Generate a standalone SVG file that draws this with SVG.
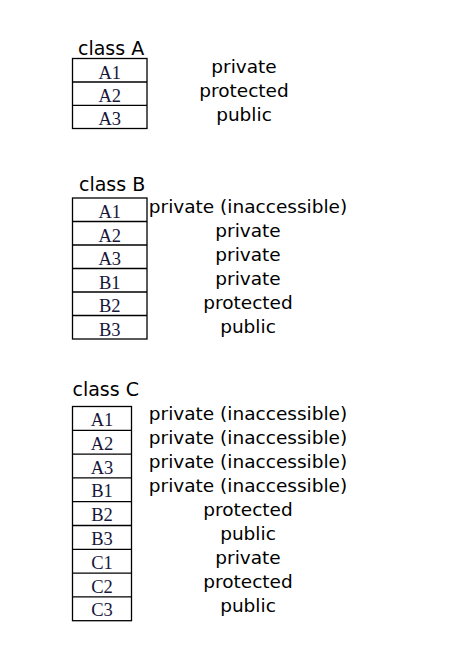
<svg xmlns="http://www.w3.org/2000/svg" width="476" height="667" viewBox="0 0 476 667">
<style>
.bg{fill:#ffffff}
.box{fill:#ffffff;stroke:#000;stroke-width:1.3}
.sep{stroke:#000;stroke-width:1.3}
.lbl{font-family:"DejaVu Sans","Liberation Sans",sans-serif;font-size:19px;fill:#000}
.acc{font-family:"DejaVu Sans","Liberation Sans",sans-serif;font-size:18.5px;fill:#000;text-anchor:middle}
.cell{font-family:"Liberation Serif","Times New Roman",serif;font-size:18.5px;fill:#16163a;text-anchor:middle}
</style>
<rect class="bg" x="0" y="0" width="476" height="667"/>

<g id="classA">
  <text class="lbl" x="78" y="54.5">class A</text>
  <rect class="box" x="72.5" y="58.5" width="74.5" height="70"/>
  <line class="sep" x1="72.5" y1="82" x2="147" y2="82"/>
  <line class="sep" x1="72.5" y1="105.3" x2="147" y2="105.3"/>
  <text class="cell" x="109.75" y="78.5">A1</text>
  <text class="cell" x="109.75" y="102">A2</text>
  <text class="cell" x="109.75" y="125.3">A3</text>
  <text class="acc" x="244" y="73">private</text>
  <text class="acc" x="244" y="97">protected</text>
  <text class="acc" x="244" y="121">public</text>
</g>

<g id="classB">
  <text class="lbl" x="79" y="191">class B</text>
  <rect class="box" x="72.5" y="198" width="74.5" height="141"/>
  <line class="sep" x1="72.5" y1="221.5" x2="147" y2="221.5"/>
  <line class="sep" x1="72.5" y1="245" x2="147" y2="245"/>
  <line class="sep" x1="72.5" y1="268.5" x2="147" y2="268.5"/>
  <line class="sep" x1="72.5" y1="292" x2="147" y2="292"/>
  <line class="sep" x1="72.5" y1="315.5" x2="147" y2="315.5"/>
  <text class="cell" x="109.75" y="218">A1</text>
  <text class="cell" x="109.75" y="241.5">A2</text>
  <text class="cell" x="109.75" y="265">A3</text>
  <text class="cell" x="109.75" y="288.5">B1</text>
  <text class="cell" x="109.75" y="312">B2</text>
  <text class="cell" x="109.75" y="335.5">B3</text>
  <text class="acc" x="248" y="213">private (inaccessible)</text>
  <text class="acc" x="248" y="237">private</text>
  <text class="acc" x="248" y="261">private</text>
  <text class="acc" x="248" y="285">private</text>
  <text class="acc" x="248" y="309">protected</text>
  <text class="acc" x="248" y="333">public</text>
</g>

<g id="classC">
  <text class="lbl" x="72.5" y="395.5">class C</text>
  <rect class="box" x="72.5" y="406.5" width="59" height="214.2"/>
  <line class="sep" x1="72.5" y1="430.3" x2="131.5" y2="430.3"/>
  <line class="sep" x1="72.5" y1="454.1" x2="131.5" y2="454.1"/>
  <line class="sep" x1="72.5" y1="477.9" x2="131.5" y2="477.9"/>
  <line class="sep" x1="72.5" y1="501.7" x2="131.5" y2="501.7"/>
  <line class="sep" x1="72.5" y1="525.5" x2="131.5" y2="525.5"/>
  <line class="sep" x1="72.5" y1="549.3" x2="131.5" y2="549.3"/>
  <line class="sep" x1="72.5" y1="573.1" x2="131.5" y2="573.1"/>
  <line class="sep" x1="72.5" y1="596.9" x2="131.5" y2="596.9"/>
  <text class="cell" x="102" y="426">A1</text>
  <text class="cell" x="102" y="449.8">A2</text>
  <text class="cell" x="102" y="473.6">A3</text>
  <text class="cell" x="102" y="497.4">B1</text>
  <text class="cell" x="102" y="521.2">B2</text>
  <text class="cell" x="102" y="545">B3</text>
  <text class="cell" x="102" y="568.8">C1</text>
  <text class="cell" x="102" y="592.6">C2</text>
  <text class="cell" x="102" y="616.4">C3</text>
  <text class="acc" x="248" y="420">private (inaccessible)</text>
  <text class="acc" x="248" y="444">private (inaccessible)</text>
  <text class="acc" x="248" y="468">private (inaccessible)</text>
  <text class="acc" x="248" y="492">private (inaccessible)</text>
  <text class="acc" x="248" y="516">protected</text>
  <text class="acc" x="248" y="540">public</text>
  <text class="acc" x="248" y="564">private</text>
  <text class="acc" x="248" y="588">protected</text>
  <text class="acc" x="248" y="612">public</text>
</g>
</svg>
